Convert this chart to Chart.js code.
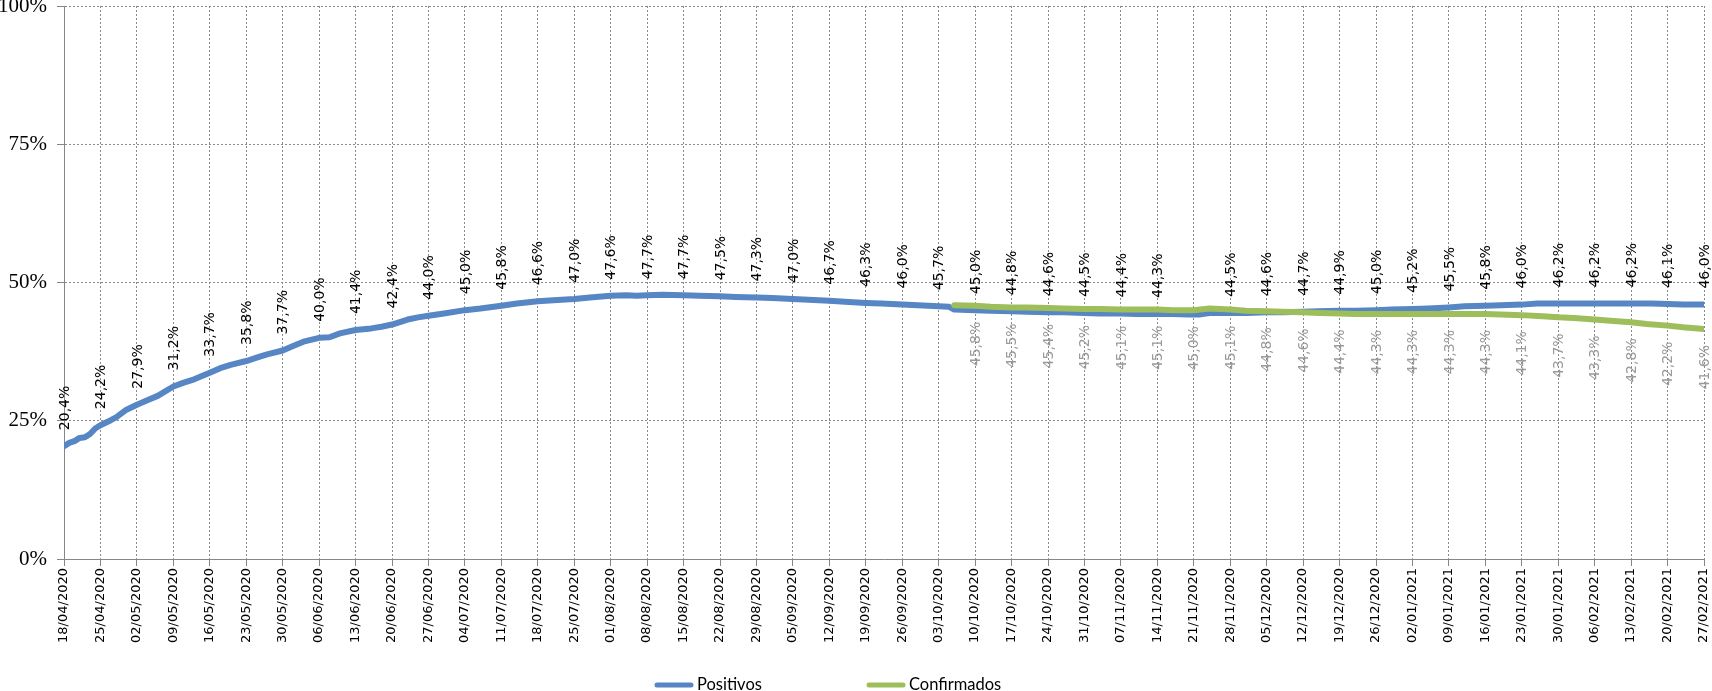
<!DOCTYPE html>
<html><head><meta charset="utf-8">
<script src="https://cdn.jsdelivr.net/npm/chart.js@4.4.1/dist/chart.umd.min.js"></script>
<style>html,body{margin:0;padding:0;background:#fff;overflow:hidden}canvas{display:block}</style>
</head><body>
<canvas id="c" width="1712" height="691"></canvas>
<script>
// Weekly tick labels (x axis: days since 18/04/2020, a tick every 7 days)
const weekLabels = ['18/04/2020','25/04/2020','02/05/2020','09/05/2020','16/05/2020','23/05/2020','30/05/2020','06/06/2020','13/06/2020','20/06/2020','27/06/2020','04/07/2020','11/07/2020','18/07/2020','25/07/2020','01/08/2020','08/08/2020','15/08/2020','22/08/2020','29/08/2020','05/09/2020','12/09/2020','19/09/2020','26/09/2020','03/10/2020','10/10/2020','17/10/2020','24/10/2020','31/10/2020','07/11/2020','14/11/2020','21/11/2020','28/11/2020','05/12/2020','12/12/2020','19/12/2020','26/12/2020','02/01/2021','09/01/2021','16/01/2021','23/01/2021','30/01/2021','06/02/2021','13/02/2021','20/02/2021','27/02/2021'];

const seriesNames = ['Positivos', 'Confirmados'];

// Positivos: day offset and value (%)
const posDays = [0,1,2,3,4,5,6,7,9,10,12,14,16,18,21,23,25,28,30,32,35,37,39,42,44,46,49,51,53,56,59,61,63,66,68,70,73,77,80,84,87,91,94,98,101,105,108,110,112,115,119,122,126,129,133,136,140,143,147,150,154,157,161,164,168,170,171,175,178,182,185,189,192,196,199,203,206,210,213,216,218,220,224,227,231,234,238,241,245,248,252,255,259,262,266,269,273,276,280,283,287,294,301,305,308,311,315];
const posValues = [20.4,21.0,21.3,21.9,22.0,22.6,23.6,24.2,25.1,25.6,27.0,27.9,28.7,29.5,31.2,31.9,32.5,33.7,34.5,35.1,35.8,36.4,37.0,37.7,38.5,39.3,40.0,40.1,40.8,41.4,41.7,42.0,42.4,43.3,43.7,44.0,44.4,45.0,45.3,45.8,46.2,46.6,46.8,47.0,47.3,47.6,47.7,47.6,47.7,47.8,47.7,47.6,47.5,47.4,47.3,47.2,47.0,46.9,46.7,46.5,46.3,46.2,46.0,45.9,45.7,45.6,45.1,45.0,44.9,44.8,44.7,44.6,44.6,44.5,44.4,44.4,44.3,44.3,44.3,44.2,44.2,44.5,44.5,44.5,44.6,44.6,44.7,44.8,44.9,44.9,45.0,45.1,45.2,45.3,45.5,45.7,45.8,45.9,46.0,46.2,46.2,46.2,46.2,46.2,46.1,46.0,46.0];

// Confirmados: day offset and value (%)
const confDays = [171,175,178,182,185,189,192,196,199,203,206,210,213,217,220,222,224,227,231,234,238,241,245,248,252,259,266,273,276,280,284,287,290,294,297,301,304,308,311,315];
const confValues = [45.9,45.8,45.6,45.5,45.5,45.4,45.3,45.2,45.2,45.1,45.1,45.1,45.0,45.0,45.3,45.2,45.1,44.9,44.8,44.7,44.6,44.5,44.4,44.3,44.3,44.3,44.3,44.3,44.2,44.1,43.9,43.7,43.6,43.3,43.1,42.8,42.5,42.2,41.9,41.6];

const yTickValues = [0, 25, 50, 75, 100];

const BLUE = '#5686C4';
const GREEN = '#9DBE5B';
const GRID = '#8a8a8a';
const AXIS = '#868686';
const SANS = '"DejaVu Sans", Verdana, sans-serif';
const SERIF = '"Liberation Serif", "Times New Roman", serif';

const fmt = v => v.toFixed(1).replace('.', ',') + '%';

const labelPlugin = {
  id: 'pointLabels',
  afterDatasetsDraw(chart) {
    const ctx = chart.ctx;
    const cfg = [
      {days: posDays, values: posValues, color: '#000000', above: true},
      {days: confDays, values: confValues, color: '#9a9a9a', above: false}
    ];
    cfg.forEach((c, di) => {
      const meta = chart.getDatasetMeta(di);
      meta.data.forEach((el, j) => {
        if (c.days[j] % 7 !== 0) return;
        ctx.save();
        ctx.translate(el.x, el.y);
        ctx.rotate(-Math.PI / 2);
        ctx.font = '14px ' + SANS;
        ctx.fillStyle = c.color;
        ctx.textBaseline = 'middle';
        if (c.above) { ctx.textAlign = 'left'; ctx.fillText(fmt(c.values[j]), 16, 1); }
        else { ctx.textAlign = 'right'; ctx.fillText(fmt(c.values[j]), -16, 1); }
        ctx.restore();
      });
    });
  }
};

const legendPlugin = {
  id: 'bottomLegend',
  afterDraw(chart) {
    const ctx = chart.ctx;
    const items = [{name: seriesNames[0], color: BLUE, x: 657}, {name: seriesNames[1], color: GREEN, x: 869}];
    items.forEach(it => {
      ctx.save();
      ctx.strokeStyle = it.color;
      ctx.lineWidth = 5;
      ctx.lineCap = 'round';
      ctx.beginPath();
      ctx.moveTo(it.x, 685);
      ctx.lineTo(it.x + 34, 685);
      ctx.stroke();
      ctx.fillStyle = '#000';
      ctx.font = '16.5px Lato, sans-serif';
      ctx.textBaseline = 'alphabetic';
      ctx.textAlign = 'left';
      ctx.fillText(it.name, it.x + 40, 690);
      ctx.restore();
    });
  }
};

new Chart(document.getElementById('c'), {
  type: 'line',
  data: {
    datasets: [
      {
        label: seriesNames[0],
        data: posDays.map((d, i) => ({x: d, y: posValues[i]})),
        borderColor: BLUE, backgroundColor: BLUE,
        borderWidth: 6, pointRadius: 0, tension: 0,
        borderCapStyle: 'round', borderJoinStyle: 'round', order: 1
      },
      {
        label: seriesNames[1],
        data: confDays.map((d, i) => ({x: d, y: confValues[i]})),
        borderColor: GREEN, backgroundColor: GREEN,
        borderWidth: 6, pointRadius: 0, tension: 0,
        borderCapStyle: 'round', borderJoinStyle: 'round', order: 0
      }
    ]
  },
  options: {
    responsive: false,
    animation: false,
    devicePixelRatio: 1,
    layout: {padding: {top: 6, right: 8, bottom: 0, left: 0}},
    plugins: {legend: {display: false}, tooltip: {enabled: false}},
    scales: {
      x: {
        type: 'linear', min: 0, max: 315,
        afterFit(s) { s.height = 132; s.paddingLeft = 0; s.paddingRight = 0; },
        afterBuildTicks(s) { s.ticks = weekLabels.map((_, i) => ({value: i * 7})); },
        ticks: {
          autoSkip: false, maxRotation: 90, minRotation: 90, padding: 2,
          color: '#000', font: {family: SANS, size: 13},
          callback: v => weekLabels[Math.round(v / 7)]
        },
        grid: {color: GRID, lineWidth: 1, tickColor: AXIS, tickLength: 7, tickBorderDash: []},
        border: {display: true, color: AXIS, width: 1, dash: [2, 2]}
      },
      y: {
        min: 0, max: 100,
        afterFit(s) { s.width = 64; s.paddingTop = 0; s.paddingBottom = 0; },
        afterBuildTicks(s) { s.ticks = yTickValues.map(v => ({value: v})); },
        ticks: {
          padding: 10, color: '#000', font: {family: SERIF, size: 21},
          callback: v => v + '%'
        },
        grid: {color: GRID, lineWidth: 1, tickColor: AXIS, tickLength: 7, tickBorderDash: []},
        border: {display: true, color: AXIS, width: 1, dash: [2, 2]}
      }
    }
  },
  plugins: [labelPlugin, legendPlugin]
});
</script>
</body></html>
